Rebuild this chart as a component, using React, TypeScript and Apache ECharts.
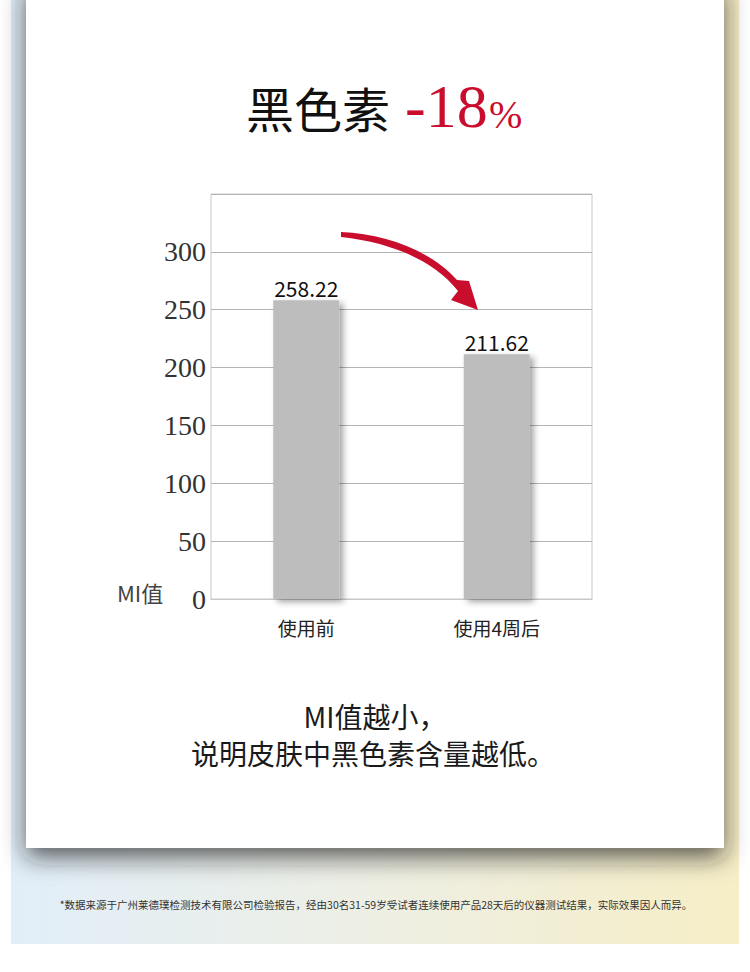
import React, { useEffect, useRef } from "react";
import * as echarts from "echarts";

const categories = ["使用前", "使用4周后"];
const miValues = [258.22, 211.62];
const yTicks = { min: 0, max: 350, interval: 50 };

const titleText = "黑色素";
const changeText = "-18";
const footnote =
  "*数据来源于广州莱德璞检测技术有限公司检验报告，经由30名31-59岁受试者连续使用产品28天后的仪器测试结果，实际效果因人而异。";

const CJK = "'Noto Sans CJK SC', 'Noto Sans', sans-serif";
const SERIF = "'Liberation Serif', 'DejaVu Serif', serif";
const RED = "#c90d2d";

// curved red arrow between the two bars
const arrowPath =
  "M341 232 C385 234 430 250 457 280 L469 281 L478 310 L451 300 L458 291 C435 262 395 243 341 237 Z";
echarts.graphic.registerShape("curveArrow", echarts.graphic.extendPath(arrowPath, {}));

const App: React.FC = () => {
  const chartRef = useRef<HTMLDivElement>(null);

  useEffect(() => {
    if (!chartRef.current) return;
    const myChart = echarts.init(chartRef.current, null, { renderer: "svg" });

    const option: any = {
      animation: false,
      graphic: [
        // page background panel
        {
          type: "rect",
          z: -20,
          silent: true,
          shape: { x: 11, y: 0, width: 728, height: 944 },
          style: {
            fill: new echarts.graphic.LinearGradient(0, 0, 1, 0, [
              { offset: 0, color: "#e1eef9" },
              { offset: 0.5, color: "#eeefe4" },
              { offset: 1, color: "#f6eec6" },
            ]),
          },
        },
        // white card
        {
          type: "rect",
          z: -10,
          silent: true,
          shape: { x: 26, y: -20, width: 698, height: 868 },
          style: {
            fill: "#ffffff",
            shadowBlur: 24,
            shadowOffsetY: 9,
            shadowColor: "rgba(30,30,30,0.7)",
          },
        },
        {
          type: "text",
          x: 246,
          y: 107,
          style: {
            text: titleText,
            font: `48px ${CJK}`,
            fill: "#111111",
            textVerticalAlign: "middle",
          },
        },
        {
          type: "text",
          x: 405,
          y: 106,
          style: {
            text: changeText,
            font: `62px ${SERIF}`,
            fill: RED,
            textVerticalAlign: "middle",
          },
        },
        {
          type: "text",
          x: 489,
          y: 114,
          style: {
            text: "%",
            font: `40px ${SERIF}`,
            fill: RED,
            textVerticalAlign: "middle",
          },
        },
        {
          type: "text",
          x: 117,
          y: 592,
          style: {
            text: "MI值",
            font: `22px ${CJK}`,
            fill: "#444444",
            textVerticalAlign: "middle",
          },
        },
        {
          type: "curveArrow",
          x: 0,
          y: 0,
          z: 10,
          style: { fill: RED },
        },
        {
          type: "text",
          x: 375,
          y: 716,
          style: {
            text: "MI值越小，",
            font: `28px ${CJK}`,
            fill: "#1a1a1a",
            textAlign: "center",
            textVerticalAlign: "middle",
          },
        },
        {
          type: "text",
          x: 373,
          y: 753,
          style: {
            text: "说明皮肤中黑色素含量越低。",
            font: `28px ${CJK}`,
            fill: "#1a1a1a",
            textAlign: "center",
            textVerticalAlign: "middle",
          },
        },
        {
          type: "text",
          x: 376,
          y: 904,
          style: {
            text: footnote,
            font: `10.5px ${CJK}`,
            fill: "#333333",
            textAlign: "center",
            textVerticalAlign: "middle",
          },
        },
      ],
      grid: {
        left: 211,
        right: 158,
        top: 194,
        bottom: 373,
        show: true,
        borderColor: "#c8c8c8",
        borderWidth: 1,
      },
      xAxis: {
        type: "category",
        data: categories,
        axisTick: { show: false },
        axisLine: { show: true, lineStyle: { color: "#c8c8c8" } },
        axisLabel: {
          color: "#222222",
          fontSize: 19,
          fontFamily: CJK,
          margin: 19,
        },
      },
      yAxis: {
        type: "value",
        min: yTicks.min,
        max: yTicks.max,
        interval: yTicks.interval,
        axisLine: { show: false },
        axisTick: { show: false },
        splitLine: { lineStyle: { color: "#b4b4b4" } },
        axisLabel: {
          color: "#333333",
          fontSize: 28,
          fontFamily: SERIF,
          margin: 5,
          formatter: (v: number) => (v === yTicks.max ? "" : String(v)),
        },
      },
      series: [
        {
          type: "bar",
          data: miValues,
          barWidth: 66,
          itemStyle: {
            color: "#bdbdbd",
            shadowBlur: 6,
            shadowOffsetX: 4,
            shadowOffsetY: 3,
            shadowColor: "rgba(0,0,0,0.35)",
          },
          label: {
            show: true,
            position: "top",
            distance: 2,
            color: "#111111",
            fontSize: 21,
            fontFamily: CJK,
            formatter: (p: any) => p.value.toFixed(2),
          },
        },
      ],
    };

    myChart.setOption(option);

    return () => {
      myChart.dispose();
    };
  }, []);

  return (
    <div
      ref={chartRef}
      style={{
        position: "absolute",
        left: 0,
        top: 0,
        width: "750px",
        height: "972px",
        background: "#ffffff",
      }}
    />
  );
};

export default App;
